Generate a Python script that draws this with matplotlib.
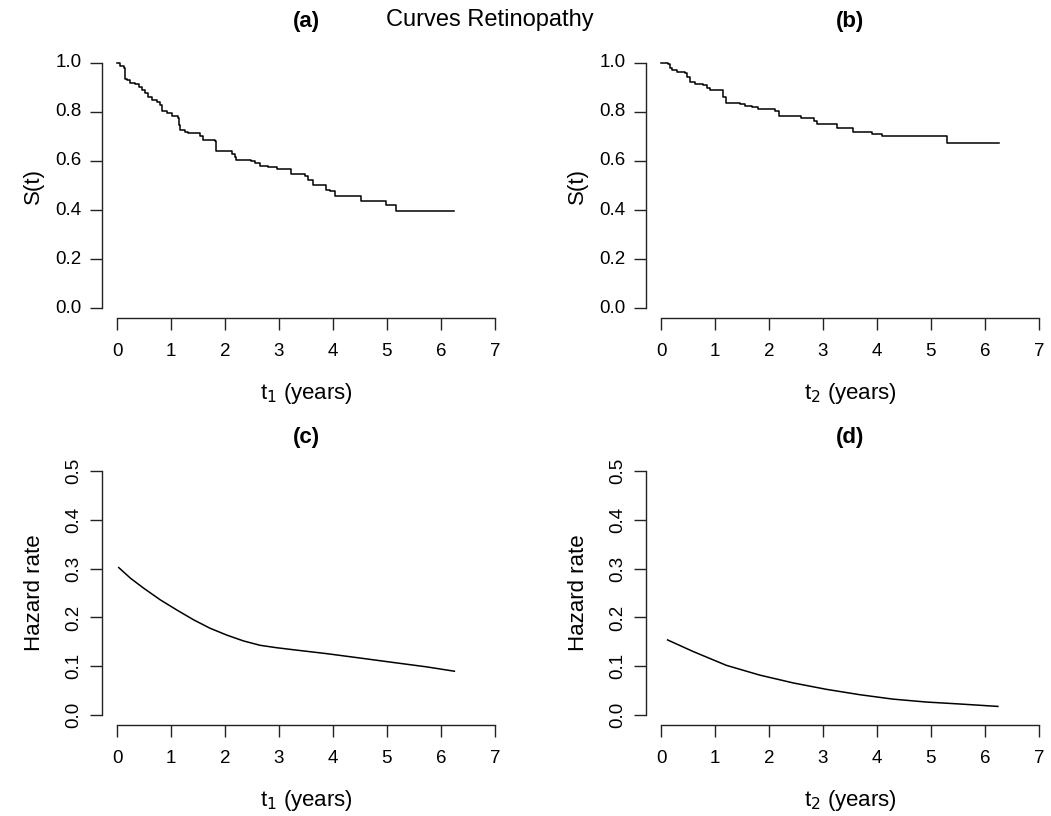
import matplotlib

matplotlib.use("Agg")
import matplotlib.pyplot as plt

plt.rcParams["font.family"] = ["Liberation Sans", "DejaVu Sans"]

# Kaplan-Meier estimates, first and second event times (years)
km1_time = [0, 0.06, 0.12, 0.15, 0.18, 0.24, 0.33, 0.40, 0.46, 0.52, 0.58, 0.65, 0.74,
            0.80, 0.83, 0.92, 1.01, 1.12, 1.15, 1.17, 1.26, 1.32, 1.54, 1.60, 1.72, 1.82,
            1.84, 2.12, 2.18, 2.21, 2.28, 2.49, 2.55, 2.65, 2.80, 2.96, 3.22, 3.48, 3.54,
            3.63, 3.87, 3.94, 4.04, 4.52, 4.99, 5.16, 6.24]
km1_surv = [1.0, 0.985, 0.98, 0.935, 0.93, 0.916, 0.912, 0.903, 0.89, 0.876, 0.862,
            0.849, 0.839, 0.828, 0.804, 0.795, 0.784, 0.774, 0.747, 0.727, 0.716, 0.714,
            0.703, 0.687, 0.684, 0.680, 0.639, 0.629, 0.618, 0.605, 0.602, 0.598, 0.592,
            0.578, 0.575, 0.569, 0.547, 0.538, 0.524, 0.503, 0.483, 0.476, 0.458, 0.437,
            0.419, 0.397, 0.397]

km2_time = [0, 0.136, 0.167, 0.198, 0.29, 0.44, 0.475, 0.537, 0.63, 0.78, 0.85, 0.907,
            1.15, 1.20, 1.46, 1.55, 1.68, 1.80, 2.05, 2.11, 2.19, 2.59, 2.83, 2.88, 3.25,
            3.50, 3.55, 3.90, 4.09, 5.29, 6.26]
km2_surv = [1.0, 0.997, 0.977, 0.97, 0.963, 0.96, 0.943, 0.92, 0.913, 0.909, 0.899,
            0.888, 0.862, 0.835, 0.832, 0.825, 0.818, 0.812, 0.81, 0.804, 0.785, 0.774,
            0.763, 0.75, 0.735, 0.733, 0.72, 0.711, 0.701, 0.674, 0.674]

# estimated hazard rates
hz1_time = [0.03, 0.25, 0.49, 0.80, 1.11, 1.42, 1.72, 2.03, 2.34, 2.65, 2.96, 3.26,
            3.88, 4.50, 5.11, 5.73, 6.25]
hz1_rate = [0.302, 0.280, 0.260, 0.236, 0.215, 0.195, 0.178, 0.164, 0.152, 0.143, 0.138,
            0.134, 0.126, 0.117, 0.108, 0.099, 0.090]

hz2_time = [0.12, 0.60, 1.21, 1.83, 2.45, 3.06, 3.68, 4.29, 4.91, 5.53, 6.24]
hz2_rate = [0.154, 0.130, 0.102, 0.082, 0.066, 0.053, 0.042, 0.033, 0.027, 0.023, 0.018]

W, H = 1051, 816
TICK_FS = 13.5
LAB_FS = 16


def add_panel(fig, left, top, right, bottom):
    return fig.add_axes([left / W, 1 - bottom / H, (right - left) / W, (bottom - top) / H])


def style(ax, ymax, ystep, letter, xlab, ylab, horiz_yticks, title_pad, ylab_pad):
    ax.set_xlim(-0.28, 7.28)
    ax.set_ylim(-0.04 * ymax, 1.04 * ymax)
    for side in ("top", "right"):
        ax.spines[side].set_visible(False)
    ax.spines["bottom"].set_bounds(0, 7)
    ax.spines["left"].set_bounds(0, ymax)
    ticks_y = [round(i * ystep, 2) for i in range(int(round(ymax / ystep)) + 1)]
    ax.set_xticks(range(8))
    ax.set_yticks(ticks_y)
    ax.set_yticklabels([f"{v:.1f}" for v in ticks_y],
                       rotation=0 if horiz_yticks else 90,
                       va="center")
    ax.tick_params(length=8.5, width=1, labelsize=TICK_FS, color="#222222")
    ax.tick_params(axis="x", pad=9.5)
    ax.tick_params(axis="y", pad=6)
    for s in ("bottom", "left"):
        ax.spines[s].set_linewidth(1)
        ax.spines[s].set_color("#222222")
    ax.set_title(letter, fontsize=LAB_FS, fontweight="bold", pad=title_pad)
    ax.set_xlabel(xlab, fontsize=LAB_FS, labelpad=15)
    ax.set_ylabel(ylab, fontsize=LAB_FS, labelpad=ylab_pad)


fig = plt.figure(figsize=(W / 100, H / 100), dpi=100)

ax_a = add_panel(fig, 102, 53, 510, 318)
ax_a.plot(km1_time, km1_surv, drawstyle="steps-post", color="black", lw=1.1)
style(ax_a, 1.0, 0.2, "(a)", "t$_1$ (years)", "S(t)", True, 19, 8.5)

ax_b = add_panel(fig, 646, 53, 1054, 318)
ax_b.plot(km2_time, km2_surv, drawstyle="steps-post", color="black", lw=1.1)
style(ax_b, 1.0, 0.2, "(b)", "t$_2$ (years)", "S(t)", True, 19, 8.5)

ax_c = add_panel(fig, 102, 461, 510, 725)
ax_c.plot(hz1_time, hz1_rate, color="black", lw=1.1)
style(ax_c, 0.5, 0.1, "(c)", "t$_1$ (years)", "Hazard rate", False, 13, 14)

ax_d = add_panel(fig, 646, 461, 1054, 725)
ax_d.plot(hz2_time, hz2_rate, color="black", lw=1.1)
style(ax_d, 0.5, 0.1, "(d)", "t$_2$ (years)", "Hazard rate", False, 13, 14)

fig.text(490 / W, 1 - 20 / H, "Curves Retinopathy", ha="center", va="center", fontsize=17)

fig.savefig("out.png", dpi=100)
